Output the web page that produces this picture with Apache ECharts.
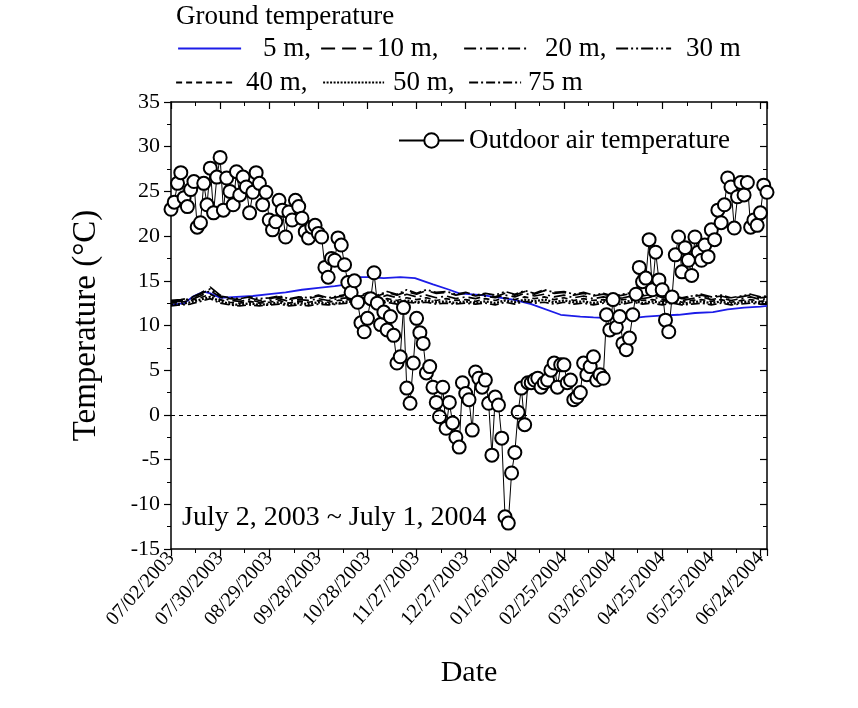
<!DOCTYPE html>
<html><head><meta charset="utf-8">
<script src="https://cdn.jsdelivr.net/npm/echarts@6/dist/echarts.min.js"></script>
<style>html,body{margin:0;padding:0;background:#fff}#c{width:858px;height:708px}</style>
</head><body><div id="c"></div>
<script>
// ---- tick labels ----
var xTickLabels = ['07/02/2003','07/30/2003','08/29/2003','09/28/2003','10/28/2003','11/27/2003','12/27/2003','01/26/2004','02/25/2004','03/26/2004','04/25/2004','05/25/2004','06/24/2004'];

// ---- outdoor air temperature (every 2 days from 07/02/2003) ----
var airDays = [];
for (var d = 0; d <= 364; d += 2) airDays.push(d);
var airTemp = [
 23.0,23.8,25.9,27.1,24.3,23.3,25.2,26.1,21.0,21.5,
 25.9,23.5,27.6,22.6,26.6,28.8,22.9,26.5,25.0,23.5,
 27.2,24.6,26.6,25.5,22.6,24.9,27.1,25.9,23.5,24.9,
 21.8,20.7,21.6,24.0,22.9,19.9,22.7,21.8,24.0,23.3,
 22.0,20.5,19.8,21.0,21.2,20.3,19.9,16.5,15.4,17.5,
 17.3,19.8,19.0,16.8,14.8,13.7,15.0,12.6,10.3,9.3,
 10.8,13.0,15.9,12.5,10.1,11.5,9.5,11.0,8.9,5.8,
 6.5,12.0,3.0,1.3,5.8,10.8,9.2,8.0,4.7,5.4,
 3.1,1.4,-0.2,3.1,-1.5,1.4,-0.9,-2.5,-3.6,3.6,
 2.4,1.7,-1.7,4.8,4.1,3.1,3.9,1.3,-4.5,2.0,
 1.1,-2.6,-11.4,-12.1,-6.5,-4.2,0.3,3.0,-1.1,3.6,
 3.6,3.9,4.1,3.1,3.6,3.9,5.0,5.8,3.1,5.6,
 5.6,3.6,3.9,1.7,2.0,2.5,5.8,4.5,5.4,6.5,
 3.9,4.5,4.1,11.2,9.5,12.9,9.8,11.0,8.0,7.3,
 8.6,11.2,13.5,16.5,14.9,15.3,19.6,14.0,18.2,15.1,
 14.0,10.6,9.3,13.2,17.9,19.9,16.0,18.7,17.3,15.6,
 19.9,18.2,17.3,19.0,17.7,20.7,19.6,22.9,21.5,23.5,
 26.5,25.5,20.9,24.4,26.0,24.6,26.0,21.0,21.8,21.2,
 22.6,25.7,24.9
];

// ---- ground temperature, 5 m ----
var days5 = [0,8,14,20,24,30,40,50,60,70,80,90,100,108,113,114,120,130,140,149,160,170,176,190,209,220,238,250,258,270,280,290,299,310,320,331,340,350,360,364];
var g5 = [12.3,12.5,13.3,13.8,13.6,13.1,13.2,13.3,13.5,13.7,14.0,14.2,14.4,14.6,14.7,15.4,15.4,15.3,15.4,15.3,14.6,14.0,13.6,13.4,12.9,12.4,11.2,11.0,10.9,10.8,10.8,11.0,11.1,11.2,11.4,11.5,11.8,12.0,12.1,12.2];

// ---- ground temperature, deeper wells (every 6 days) ----
var daysG = [0,6,12,18,24,30,36,42,48,54,60,66,72,78,84,90,96,102,108,114,120,126,132,138,144,150,156,162,168,174,180,186,192,198,204,210,216,222,228,234,240,246,252,258,264,270,276,282,288,294,300,306,312,318,324,330,336,342,348,354,360,364];
var g10 = [12.8,12.9,13.1,13.6,14.3,13.4,13.0,12.9,13.1,12.8,
 13.0,13.2,12.9,13.1,13.0,13.3,13.0,13.2,13.4,13.1,
 13.6,13.3,13.7,13.4,13.8,13.5,13.9,13.6,13.7,13.4,
 13.6,13.3,13.5,13.2,13.6,13.4,13.8,13.5,13.9,13.6,
 13.7,13.4,13.6,13.3,13.5,13.2,13.4,13.6,13.3,13.5,
 13.1,13.3,13.0,13.2,13.4,13.1,13.3,13.0,13.2,13.4,
 13.1,13.2];
var g20 = [12.6,12.7,12.9,13.3,13.9,13.2,12.8,12.7,12.9,12.6,
 12.8,13.0,12.7,12.9,12.8,13.0,12.8,13.0,13.1,12.9,
 13.2,13.0,13.4,13.1,13.5,13.2,13.4,13.1,13.3,13.0,
 13.2,13.0,13.3,13.1,13.4,13.2,13.6,13.3,13.5,13.2,
 13.4,13.1,13.3,13.0,13.2,13.0,13.1,13.3,13.0,13.2,
 12.9,13.1,12.8,13.0,13.2,12.9,13.1,12.8,13.0,13.2,
 12.9,13.0];
var g30 = [12.7,12.8,13.0,13.5,14.1,13.3,13.1,13.0,13.2,13.0,
 13.1,13.3,13.0,13.2,13.1,13.4,13.1,13.3,13.5,13.2,
 13.7,13.4,13.8,13.5,14.0,13.6,14.0,13.7,13.8,13.5,
 13.7,13.4,13.6,13.4,13.8,13.5,13.9,13.6,14.0,13.7,
 13.8,13.5,13.7,13.4,13.6,13.3,13.5,13.7,13.4,13.6,
 13.2,13.4,13.1,13.3,13.5,13.2,13.4,13.1,13.3,13.5,
 13.2,13.3];
var g40 = [12.5,12.6,12.8,13.1,13.5,12.9,12.6,12.5,12.7,12.5,
 12.6,12.8,12.5,12.7,12.6,12.8,12.6,12.8,12.9,12.7,
 12.9,12.7,13.0,12.8,13.1,12.9,13.1,12.8,13.0,12.8,
 12.9,12.7,13.0,12.8,13.1,12.9,13.2,13.0,13.2,12.9,
 13.1,12.8,13.0,12.8,12.9,12.7,12.9,13.0,12.8,12.9,
 12.7,12.9,12.6,12.8,12.9,12.7,12.9,12.6,12.8,12.9,
 12.7,12.8];
var g50 = [12.3,12.4,12.6,12.9,13.2,12.7,12.4,12.3,12.5,12.3,
 12.4,12.6,12.3,12.5,12.4,12.6,12.4,12.5,12.7,12.5,
 12.7,12.5,12.8,12.6,12.8,12.6,12.8,12.6,12.7,12.5,
 12.7,12.5,12.7,12.5,12.8,12.6,12.9,12.7,12.9,12.6,
 12.8,12.6,12.7,12.5,12.7,12.5,12.6,12.8,12.5,12.7,
 12.5,12.7,12.4,12.6,12.7,12.5,12.7,12.4,12.6,12.7,
 12.5,12.6];
var g75 = [12.2,12.3,12.4,12.7,13.0,12.5,12.3,12.2,12.3,12.2,
 12.3,12.4,12.2,12.3,12.2,12.4,12.3,12.4,12.5,12.3,
 12.5,12.4,12.6,12.4,12.6,12.5,12.6,12.4,12.5,12.4,
 12.5,12.4,12.5,12.3,12.6,12.4,12.7,12.5,12.6,12.4,
 12.6,12.4,12.5,12.3,12.5,12.3,12.4,12.6,12.4,12.5,
 12.3,12.5,12.3,12.4,12.5,12.3,12.5,12.3,12.4,12.5,
 12.4,12.4];

function pairs(xs, ys){ return xs.map(function(x,i){ return [x, ys[i]]; }); }

var FONT = 'Liberation Serif';
var LFS = 27;
var chart = echarts.init(document.getElementById('c'), null, {renderer:'canvas'});

function groundSeries(name, xs, ys, color, dash, width){
  return { name: name, type:'line', data: pairs(xs, ys), symbol:'none', showSymbol:false,
    lineStyle:{color:color, width:width, type:dash}, itemStyle:{color:color}, z:2, silent:true };
}
function legendAt(name, left, top, w, pad){
  return { data:[name], left:left, top:top, itemWidth:w, itemHeight:14, padding:0, selectedMode:false,
    itemStyle:{opacity:0}, lineStyle:{width:2.2},
    formatter: function(n){ return (n==='30 m'||n==='75 m') ? n : n + ','; },
    textStyle:{fontFamily:FONT, fontSize:LFS, color:'#000', padding:[0,0,0,pad]} };
}

var axisCommon = { min:0, max:364, interval:30 };

chart.setOption({
  animation:false,
  backgroundColor:'#fff',
  title:{ text:'Ground temperature', left:176, top:3, padding:0,
    textStyle:{fontFamily:FONT, fontSize:LFS, fontWeight:'normal', color:'#000'} },
  legend:[
    legendAt('5 m', 177, 35, 63, 17),
    legendAt('10 m', 320, 35, 51, 0),
    legendAt('20 m', 463, 35, 66, 10),
    legendAt('30 m', 615, 35, 55, 10),
    legendAt('40 m', 175, 69, 60, 5),
    legendAt('50 m', 322, 69, 61, 4),
    legendAt('75 m', 468, 69, 52, 2),
    { data:['Outdoor air temperature'], left:398, top:127, itemWidth:65, itemHeight:18, padding:0, selectedMode:false,
      textStyle:{fontFamily:FONT, fontSize:LFS, color:'#000', padding:[0,0,0,0]} }
  ],
  graphic:[
    { type:'text', left:182, top:504, style:{ text:'July 2, 2003 ~ July 1, 2004', font:'28px "Liberation Serif"', fill:'#000' } }
  ],
  grid:{ left:171, right:91, top:102, bottom:159, containLabel:false },
  xAxis:[
    Object.assign({ type:'value', position:'bottom', name:'Date', nameLocation:'middle', nameGap:109,
      nameTextStyle:{fontFamily:FONT, fontSize:30, color:'#000'},
      axisLine:{show:true, onZero:false, lineStyle:{color:'#000', width:1.5}},
      axisTick:{show:true, inside:false, length:7, lineStyle:{color:'#000', width:1.2}},
      minorTick:{show:true, splitNumber:2, length:4, lineStyle:{color:'#000', width:1}},
      splitLine:{show:false},
      axisLabel:{ rotate:48, margin:6, fontFamily:FONT, fontSize:20, color:'#000',
        formatter:function(v){ return (v % 30 === 0) ? (xTickLabels[v/30] || '') : ''; } }
    }, axisCommon),
    Object.assign({ type:'value', position:'top',
      axisLine:{show:true, onZero:false, lineStyle:{color:'#000', width:1.5}},
      axisTick:{show:true, inside:true, length:7, lineStyle:{color:'#000', width:1.2}},
      minorTick:{show:true, splitNumber:2, length:4, lineStyle:{color:'#000', width:1}},
      splitLine:{show:false}, axisLabel:{show:false}
    }, axisCommon)
  ],
  yAxis:[
    { type:'value', min:-15, max:35, interval:5, position:'left',
      name:'Temperature (°C)', nameLocation:'middle', nameGap:68, nameRotate:90,
      nameTextStyle:{fontFamily:FONT, fontSize:33, color:'#000'},
      axisLine:{show:true, onZero:false, lineStyle:{color:'#000', width:1.5}},
      axisTick:{show:true, inside:false, length:7, lineStyle:{color:'#000', width:1.2}},
      minorTick:{show:true, splitNumber:2, length:4, lineStyle:{color:'#000', width:1}},
      splitLine:{show:false},
      axisLabel:{ margin:11, fontFamily:FONT, fontSize:22, color:'#000' } },
    { type:'value', min:-15, max:35, interval:5, position:'right',
      axisLine:{show:true, onZero:false, lineStyle:{color:'#000', width:1.5}},
      axisTick:{show:true, inside:true, length:7, lineStyle:{color:'#000', width:1.2}},
      minorTick:{show:true, splitNumber:2, length:4, lineStyle:{color:'#000', width:1}},
      splitLine:{show:false}, axisLabel:{show:false} }
  ],
  series:[
    groundSeries('5 m', days5, g5, '#1c1ce8', 'solid', 1.8),
    groundSeries('10 m', daysG, g10, '#000', [14,7], 1.7),
    groundSeries('20 m', daysG, g20, '#000', [12,4,2,4], 1.7),
    groundSeries('30 m', daysG, g30, '#000', [12,3,2,3,2,3], 1.7),
    groundSeries('40 m', daysG, g40, '#000', [6,4], 1.7),
    groundSeries('50 m', daysG, g50, '#000', [2,1.5], 2.3),
    groundSeries('75 m', daysG, g75, '#000', [9,3,2,3], 1.7),
    { name:'Outdoor air temperature', type:'line', data:pairs(airDays, airTemp),
      symbol:'emptyCircle', symbolSize:13, showSymbol:true, showAllSymbol:true,
      lineStyle:{color:'#000', width:1}, itemStyle:{color:'#000', borderColor:'#000', borderWidth:1},
      z:3, silent:true,
      markLine:{ silent:true, symbol:'none', label:{show:false},
        lineStyle:{color:'#000', width:1, type:[4,4]}, data:[{yAxis:0}] } }
  ]
});
</script>
</body></html>
